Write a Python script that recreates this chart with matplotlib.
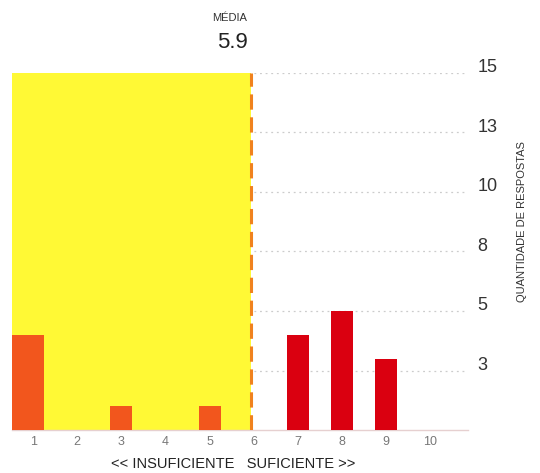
import matplotlib
matplotlib.use("Agg")
import matplotlib.pyplot as plt
import matplotlib.transforms as mtransforms

plt.rcParams['font.family'] = ['Liberation Sans', 'DejaVu Sans']

# notas de 1 a 10 e quantidade de respostas
notas = [1, 2, 3, 4, 5, 6, 7, 8, 9, 10]
respostas = [4, 0, 1, 0, 1, 0, 4, 5, 3, 0]
y_ticks = [2.5, 5, 7.5, 10, 12.5, 15]
y_labels = ["3", "5", "8", "10", "13", "15"]

total = sum(respostas)
media = sum(n * r for n, r in zip(notas, respostas)) / total

fig = plt.figure(figsize=(5.4, 4.73), dpi=100)
ax = fig.add_axes([0.0222, 0.0909, 0.8445, 0.7548])

xmin, xmax = 0.52, 10.86
ax.set_xlim(xmin, xmax)
ax.set_ylim(0, 15)

# área insuficiente (até a média)
ax.axvspan(xmin, media, color="#FFF935", zorder=1, lw=0)

for y in y_ticks:
    ax.axhline(y, color="#cccccc", lw=0.9, ls=(0, (1.5, 3)), zorder=0.5)

cores = ["#F2561D" if n < media else "#DA0010" for n in notas]
bars = ax.bar(notas, respostas, width=0.5, color=cores, zorder=3)
# primeira barra encosta na borda esquerda
bars[0].set_x(xmin)
bars[0].set_width(1.25 - xmin)

ax.plot([media, media], [0, 15], color="#F0821E", lw=2.2, ls=(0, (5, 2.5)), zorder=4)

fig.text(248 / 540, 1 - 42 / 473, "5.9", ha="right", va="center", fontsize=16, color="#222222")
fig.text(247 / 540, 1 - 18 / 473, "MÉDIA", ha="right", va="center", fontsize=8, color="#333333")

for s in ["top", "left", "right"]:
    ax.spines[s].set_visible(False)
ax.spines["bottom"].set_color("#e6d0d0")
ax.spines["bottom"].set_linewidth(1.0)

ax.set_xticks(notas)
ax.set_xticklabels([str(n) for n in notas])
ax.tick_params(axis="x", length=0, pad=4, labelsize=9, labelcolor="#777777")

ax.yaxis.tick_right()
ax.set_yticks(y_ticks)
ax.set_yticklabels(y_labels)
ax.tick_params(axis="y", length=0, pad=7, labelsize=13, labelcolor="#333333")
off = mtransforms.ScaledTranslation(0, 7 / 100, fig.dpi_scale_trans)
for lbl in ax.get_yticklabels():
    lbl.set_transform(lbl.get_transform() + off)

fig.text(233 / 540, 1 - 464 / 473, "<< INSUFICIENTE   SUFICIENTE >>", ha="center", va="center",
         fontsize=10.5, color="#222222")
fig.text(522 / 540, 1 - 222 / 473, "QUANTIDADE DE RESPOSTAS", ha="center", va="center",
         rotation=90, fontsize=8, color="#333333")

fig.savefig("out.png", dpi=100)
